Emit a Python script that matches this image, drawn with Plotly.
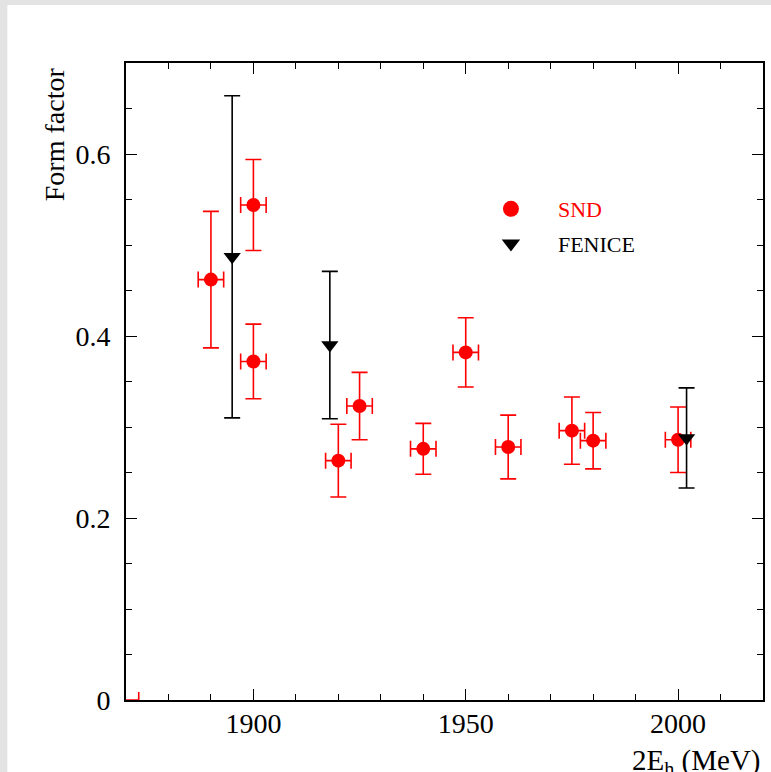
import plotly.graph_objects as go

# ---- data ----
snd_x = [1860, 1890, 1900, 1900, 1920, 1925, 1940, 1950, 1960, 1975, 1980, 2000]
snd_y = [0.0, 0.462, 0.544, 0.372, 0.263, 0.323, 0.276, 0.382, 0.278, 0.296, 0.285, 0.286]
snd_yerr = [0.0, 0.075, 0.050, 0.041, 0.040, 0.037, 0.028, 0.038, 0.035, 0.037, 0.031, 0.036]
snd_xerr = [13, 3, 3, 3, 3, 3, 3, 3, 3, 3, 3, 3]

fenice_x = [1895, 1918, 2002]
fenice_y = [0.487, 0.390, 0.288]
fenice_yerr = [0.177, 0.081, 0.055]

x_range = [1870, 2020]
y_range = [0, 0.7]
x_ticks = [1900, 1950, 2000]
y_ticks = [0, 0.2, 0.4, 0.6]

FONT = "Liberation Serif, Times New Roman, serif"
W, H = 771, 772
L, R, T, B = 126, 6, 63, 72

fig = go.Figure()
fig.add_trace(go.Scatter(
    x=snd_x, y=snd_y, mode="markers", name="SND", showlegend=False,
    marker=dict(symbol="circle", size=14, color="#ff0000"),
    error_y=dict(type="data", array=snd_yerr, color="#ff0000", thickness=1.6, width=8),
    error_x=dict(type="data", array=snd_xerr, color="#ff0000", thickness=1.6, width=8),
    cliponaxis=True,
))
fig.add_trace(go.Scatter(
    x=fenice_x, y=fenice_y, mode="markers", name="FENICE", showlegend=False,
    marker=dict(symbol="triangle-down", size=15, color="#000000"),
    error_y=dict(type="data", array=fenice_yerr, color="#000000", thickness=1.6, width=8),
    cliponaxis=True,
))
# legend keys (larger symbols, as in the reference legend)
fig.add_trace(go.Scatter(
    x=[None], y=[None], mode="markers", name="<span style='color:#ff0000'>SND</span>",
    marker=dict(symbol="circle", size=20, color="#ff0000"), legendgroup="a",
))
fig.add_trace(go.Scatter(
    x=[None], y=[None], mode="markers", name="FENICE",
    marker=dict(symbol="triangle-down", size=20, color="#000000"), legendgroup="b",
))

axis_common = dict(
    showgrid=False, zeroline=False, showline=True, linecolor="#000000", linewidth=2,
    mirror="allticks", ticks="inside", ticklen=11, tickwidth=1.4, tickcolor="#000000",
    tickfont=dict(family=FONT, size=28, color="#000000"), layer="below traces",
)
fig.update_xaxes(range=x_range, tickvals=x_ticks, ticklabelstandoff=-3,
                 minor=dict(ticks="inside", dtick=10, ticklen=6, tickwidth=1.2, tickcolor="#000000"),
                 **axis_common)
fig.update_yaxes(range=y_range, tickvals=y_ticks, ticktext=["0", "0.2", "0.4", "0.6"],
                 ticklabelstandoff=8,
                 minor=dict(ticks="inside", dtick=0.05, ticklen=6, tickwidth=1.2, tickcolor="#000000"),
                 **axis_common)

pw, ph = W - L - R, H - T - B
def px(xp):
    return (xp - L) / pw
def py(yp):
    return (H - B - yp) / ph

fig.add_annotation(text="Form factor", textangle=-90, xref="paper", yref="paper",
                   x=px(55), y=py(134), xanchor="center", yanchor="middle", showarrow=False,
                   font=dict(family=FONT, size=28, color="#000000"))
fig.add_annotation(text="2E<sub>h</sub> (MeV)", xref="paper", yref="paper",
                   x=1.0, y=py(762), xanchor="right", yanchor="middle", showarrow=False,
                   font=dict(family=FONT, size=29, color="#000000"))

fig.add_shape(type="rect", xref="paper", yref="paper", x0=px(7), x1=px(800), y0=py(800), y1=py(5),
              fillcolor="#ffffff", line=dict(width=0), layer="below")

fig.update_layout(
    width=W, height=H, margin=dict(l=L, r=R, t=T, b=B),
    paper_bgcolor="#e3e3e3", plot_bgcolor="rgba(0,0,0,0)",
    showlegend=True,
    legend=dict(x=px(465), y=py(188), xanchor="left", yanchor="top",
                bgcolor="rgba(0,0,0,0)", font=dict(family=FONT, size=22, color="#000000"),
                tracegroupgap=3, itemsizing="trace", itemwidth=84),
)

fig.write_html("out.html")
